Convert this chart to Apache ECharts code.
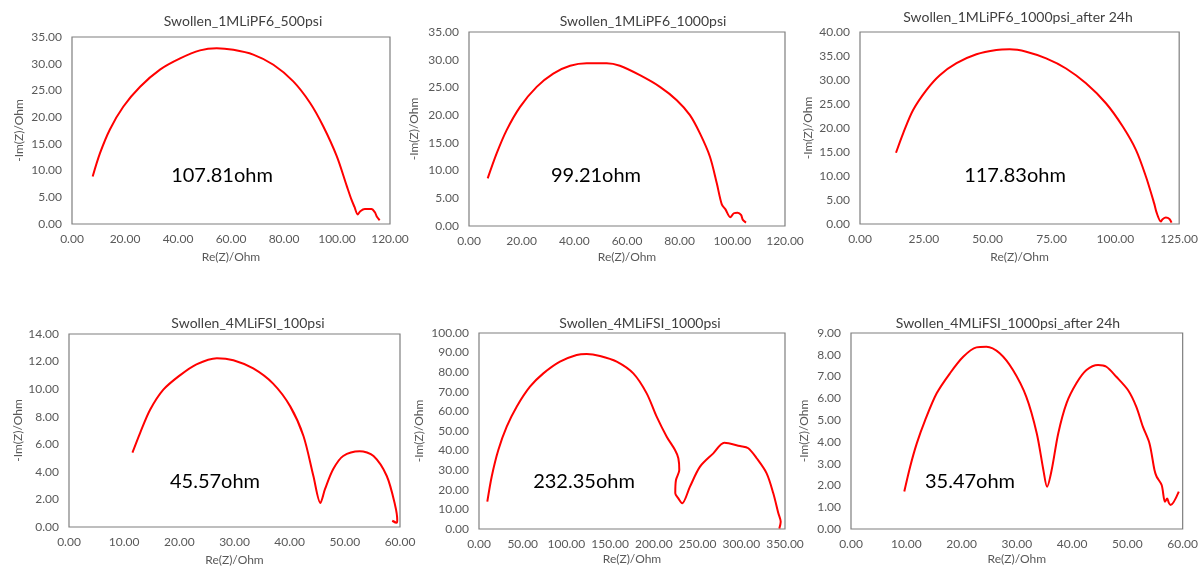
<!DOCTYPE html>
<html>
<head>
<meta charset="utf-8">
<script src="https://cdn.jsdelivr.net/npm/echarts@6/dist/echarts.min.js"></script>
<style>
  html, body { margin: 0; padding: 0; background: #ffffff; }
  #chart { width: 1201px; height: 567px; }
</style>
</head>
<body>
<div id="chart"></div>
<script>
// Nyquist plots of six swollen-electrolyte cells: Re(Z) vs -Im(Z), in ohm.
const titles = [
  'Swollen_1MLiPF6_500psi',
  'Swollen_1MLiPF6_1000psi',
  'Swollen_1MLiPF6_1000psi_after 24h',
  'Swollen_4MLiFSI_100psi',
  'Swollen_4MLiFSI_1000psi',
  'Swollen_4MLiFSI_1000psi_after 24h'
];
const resistanceLabels = ['107.81ohm', '99.21ohm', '117.83ohm', '45.57ohm', '232.35ohm', '35.47ohm'];

// axis ranges: [min, max, interval]
const xRanges = [[0, 120, 20], [0, 120, 20], [0, 125, 25], [0, 60, 10], [0, 350, 50], [0, 60, 10]];
const yRanges = [[0, 35, 5], [0, 35, 5], [0, 40, 5], [0, 14, 2], [0, 100, 10], [0, 9, 1]];

const re1 = [7.8, 10.6, 14.3, 19.4, 25.7, 33.2, 40.8, 48.3, 54.6, 60.9, 68.4, 76.0, 83.5, 89.8, 94.8, 99.9, 103.7, 105.5, 106.6, 107.81, 108.8, 110.5, 113.0, 114.3, 115.0, 116.1];
const im1 = [8.9, 13.3, 17.7, 22.0, 25.7, 28.9, 31.0, 32.5, 32.9, 32.6, 31.7, 29.8, 26.7, 22.7, 18.3, 12.7, 7.1, 4.5, 3.2, 1.8, 2.4, 2.8, 2.8, 2.2, 1.4, 0.7];

const re2 = [7.1, 10.5, 14.3, 19.4, 25.7, 32.0, 38.4, 44.7, 52.3, 57.3, 64.9, 72.5, 78.9, 83.9, 87.7, 91.5, 94.1, 96.0, 97.4, 99.21, 100.6, 102.0, 103.3, 104.0, 105.2];
const im2 = [8.6, 13.1, 17.3, 21.5, 25.1, 27.5, 28.9, 29.35, 29.35, 28.9, 27.2, 25.1, 22.7, 20.0, 16.7, 12.5, 7.7, 3.9, 3.0, 1.6, 2.3, 2.4, 2.0, 1.1, 0.6];

const re3 = [14.1, 16.9, 20.8, 26.0, 31.25, 37.8, 45.6, 53.4, 58.6, 65.1, 72.9, 80.7, 88.5, 96.4, 102.9, 108.1, 112.0, 115.2, 116.2, 117.83, 118.5, 119.8, 121.2, 122.0];
const im3 = [14.85, 18.9, 23.75, 27.9, 31.0, 33.5, 35.35, 36.25, 36.4, 35.9, 34.5, 32.4, 29.3, 25.1, 20.3, 15.4, 9.85, 4.3, 2.3, 0.5, 1.0, 1.35, 1.05, 0.3];

const re4 = [11.5, 12.9, 14.7, 17.1, 20.1, 23.1, 26.8, 29.8, 33.4, 37.0, 40.1, 42.5, 44.3, 45.57, 46.4, 47.9, 49.7, 52.7, 55.2, 57.6, 59.1, 59.5, 59.4, 58.6, 59.2];
const im4 = [5.39, 6.83, 8.5, 9.96, 11.0, 11.8, 12.25, 12.1, 11.5, 10.4, 8.75, 6.6, 3.7, 1.75, 2.74, 4.2, 5.15, 5.5, 5.15, 3.7, 1.6, 0.5, 0.3, 0.45, 0.35];

const re5 = [9.5, 14.5, 22.1, 31.7, 43.1, 58.3, 73.6, 92.6, 111.7, 123.2, 138.4, 157.5, 176.5, 191.8, 203.2, 214.7, 224.2, 228.0, 229.1, 225.3, 224.5, 228.0, 232.35, 241.3, 252.8, 268.0, 280.6, 298.5, 308.0, 317.6, 329.0, 336.6, 342.4, 345.1, 343.5];
const im5 = [13.95, 26.7, 40.3, 52.2, 62.4, 72.6, 79.4, 85.4, 88.8, 89.3, 88.3, 85.4, 79.4, 69.2, 57.3, 47.1, 40.3, 36.1, 30.1, 25.0, 18.2, 15.6, 13.1, 21.6, 31.8, 38.6, 44.0, 42.3, 41.2, 36.1, 28.4, 18.2, 8.0, 3.7, 0.3];

const re6 = [9.64, 10.7, 11.9, 13.4, 15.5, 17.9, 20.3, 22.7, 24.5, 26.9, 29.3, 31.7, 33.6, 34.8, 35.47, 36.3, 37.5, 39.0, 40.8, 42.6, 44.7, 46.2, 48.0, 50.1, 51.6, 52.8, 54.0, 54.9, 55.3, 56.2, 56.8, 57.2, 57.5, 57.8, 59.3];
const im6 = [1.72, 2.86, 3.93, 4.99, 6.23, 7.15, 7.91, 8.34, 8.37, 8.07, 7.3, 6.08, 4.4, 2.71, 1.94, 2.71, 4.4, 5.78, 6.7, 7.3, 7.53, 7.45, 6.99, 6.38, 5.62, 4.7, 3.93, 2.71, 2.4, 2.02, 1.25, 1.4, 1.2, 1.1, 1.72];

const reSets = [re1, re2, re3, re4, re5, re6];
const imSets = [im1, im2, im3, im4, im5, im6];

// ---- layout of the 2x3 panel sheet ----
const FONT = 'Lato, "Open Sans", "Noto Sans", sans-serif';
const panels = [
  { left: 72,  top: 37,  width: 318, height: 187, yNameGap: 47, xNameGap: 27, xLabelMargin: 9, title: [243, 21],  note: [222, 176] },
  { left: 469, top: 32,  width: 316, height: 194, yNameGap: 49, xNameGap: 25, xLabelMargin: 9, title: [643, 21],  note: [596, 176] },
  { left: 860, top: 32,  width: 320, height: 192, yNameGap: 46, xNameGap: 27, xLabelMargin: 9, title: [1018, 17], note: [1015, 176] },
  { left: 69,  top: 334, width: 331, height: 194, yNameGap: 41, xNameGap: 27, xLabelMargin: 9, title: [248, 323], note: [215, 482] },
  { left: 479, top: 333, width: 306, height: 196, yNameGap: 54, xNameGap: 24, xLabelMargin: 9, title: [640, 323], note: [584, 482] },
  { left: 851, top: 333, width: 332, height: 196, yNameGap: 41, xNameGap: 24, xLabelMargin: 9, title: [1008, 323], note: [970, 482] }
];

const grid = [], xAxis = [], yAxis = [], series = [], graphic = [];

panels.forEach((p, i) => {
  grid.push({
    left: p.left, top: p.top, width: p.width, height: p.height,
    show: true, borderColor: '#7f7f7f', borderWidth: 1.2, backgroundColor: '#ffffff'
  });
  xAxis.push({
    type: 'value', gridIndex: i,
    min: xRanges[i][0], max: xRanges[i][1], interval: xRanges[i][2],
    name: 'Re(Z)/Ohm', nameLocation: 'middle', nameGap: p.xNameGap,
    nameTextStyle: { color: '#595959', fontSize: 12, fontFamily: FONT },
    axisLine: { show: false }, axisTick: { show: false }, splitLine: { show: false },
    axisLabel: { color: '#595959', fontSize: 12, fontFamily: FONT, margin: p.xLabelMargin,
      formatter: v => v.toFixed(2) }
  });
  yAxis.push({
    type: 'value', gridIndex: i,
    min: yRanges[i][0], max: yRanges[i][1], interval: yRanges[i][2],
    name: '-Im(Z)/Ohm', nameLocation: 'middle', nameGap: p.yNameGap, nameRotate: 90,
    nameTextStyle: { color: '#595959', fontSize: 12, fontFamily: FONT },
    axisLine: { show: false }, axisTick: { show: false }, splitLine: { show: false },
    axisLabel: { color: '#595959', fontSize: 12, fontFamily: FONT, margin: 10,
      formatter: v => v.toFixed(2) }
  });
  series.push({
    type: 'line', xAxisIndex: i, yAxisIndex: i,
    data: reSets[i].map((x, k) => [x, imSets[i][k]]),
    showSymbol: false, smooth: 0.3,
    lineStyle: { color: '#ff0000', width: 2 },
    animation: false
  });
  graphic.push({
    type: 'text', x: p.title[0], y: p.title[1], silent: true,
    style: { text: titles[i], fill: '#404040', font: '14px ' + FONT, align: 'center', verticalAlign: 'middle' }
  });
  graphic.push({
    type: 'text', x: p.note[0], y: p.note[1], silent: true,
    style: { text: resistanceLabels[i], fill: '#000000', font: '20px ' + FONT, align: 'center', verticalAlign: 'middle' }
  });
});

const chart = echarts.init(document.getElementById('chart'), null, { renderer: 'canvas' });
chart.setOption({
  animation: false,
  backgroundColor: '#ffffff',
  grid, xAxis, yAxis, series, graphic
});
</script>
</body>
</html>
